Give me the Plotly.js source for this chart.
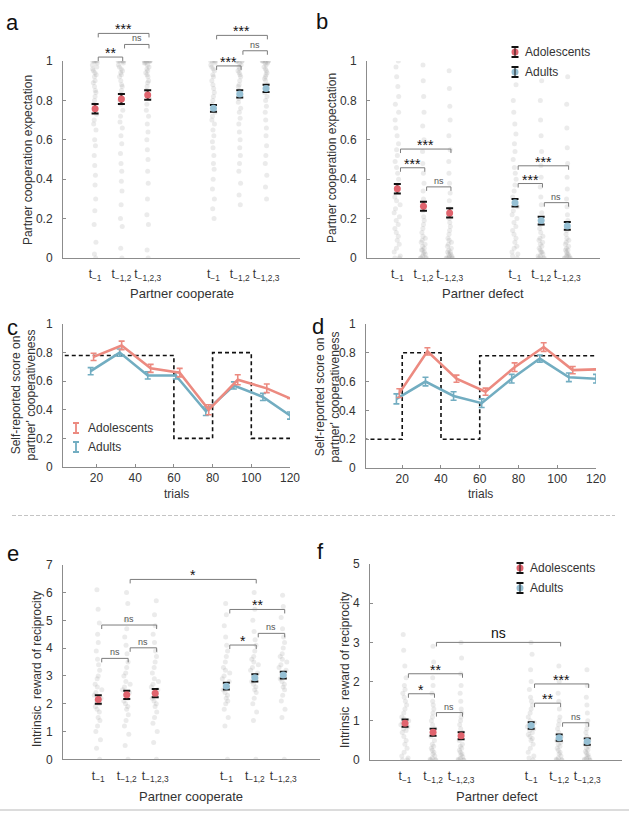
<!DOCTYPE html>
<html>
<head>
<meta charset="utf-8">
<script src="https://cdn.plot.ly/plotly-3.0.1.min.js"></script>
<style>
html,body{margin:0;padding:0;background:#fff;}
#chart{width:629px;height:813px;}
</style>
</head>
<body>
<div id="chart"></div>
<script>
// ---------------- data ----------------
const condTicks = ['t<sub>\u22121</sub>', 't<sub>\u22121,2</sub>', 't<sub>\u22121,2,3</sub>'];
const groupNames = ['Adolescents', 'Adults'];

// (a) partner cooperation expectation after the partner cooperated: mean and s.e.m.
const expCoopAdoMean = [0.758, 0.807, 0.827];
const expCoopAdoSem  = [0.024, 0.025, 0.024];
const expCoopAduMean = [0.760, 0.833, 0.861];
const expCoopAduSem  = [0.017, 0.018, 0.018];
// (b) after the partner defected
const expDefAdoMean = [0.351, 0.263, 0.229];
const expDefAdoSem  = [0.024, 0.023, 0.023];
const expDefAduMean = [0.281, 0.190, 0.163];
const expDefAduSem  = [0.019, 0.020, 0.020];
// (e) intrinsic reward of reciprocity, partner cooperated
const rewCoopAdoMean = [2.15, 2.32, 2.38];
const rewCoopAdoSem  = [0.15, 0.15, 0.15];
const rewCoopAduMean = [2.63, 2.93, 3.03];
const rewCoopAduSem  = [0.12, 0.13, 0.12];
// (f) partner defected
const rewDefAdoMean = [0.94, 0.71, 0.62];
const rewDefAdoSem  = [0.09, 0.09, 0.09];
const rewDefAduMean = [0.88, 0.57, 0.47];
const rewDefAduSem  = [0.08, 0.08, 0.08];

// individual participants (one list per condition)
const expCoopAdoPts = [
  [1,1,1,1,1,0.99,0.98,0.97,0.96,0.95,0.94,0.93,0.92,0.9,0.89,0.87,0.85,0.84,0.82,0.8,0.78,0.76,0.73,0.7,0.68,0.65,0.6,0.57,0.52,0.47,0.42,0.37,0.3,0.24,0.17,0.08,0.02,0],
  [1,1,1,1,1,1,0.99,0.98,0.97,0.96,0.95,0.94,0.93,0.92,0.9,0.88,0.87,0.85,0.83,0.8,0.78,0.75,0.72,0.69,0.66,0.62,0.58,0.53,0.48,0.44,0.39,0.34,0.27,0.2,0.16,0.05,0],
  [1,1,1,1,1,1,1,0.99,0.99,0.98,0.97,0.96,0.95,0.94,0.93,0.92,0.9,0.89,0.87,0.85,0.83,0.81,0.78,0.75,0.72,0.68,0.64,0.6,0.55,0.5,0.44,0.38,0.3,0.22,0.17,0.04,0]
];
const expCoopAduPts = [
  [1,1,1,1,0.99,0.98,0.97,0.96,0.95,0.93,0.92,0.9,0.88,0.86,0.84,0.82,0.8,0.78,0.76,0.74,0.72,0.7,0.68,0.65,0.62,0.59,0.56,0.52,0.48,0.45,0.4,0.35,0.3,0.25,0.2],
  [1,1,1,1,1,0.99,0.98,0.97,0.96,0.95,0.94,0.93,0.92,0.9,0.88,0.87,0.85,0.83,0.81,0.79,0.76,0.74,0.71,0.68,0.64,0.6,0.56,0.52,0.48,0.44,0.38,0.32,0.27],
  [1,1,1,1,1,1,0.99,0.99,0.98,0.97,0.96,0.95,0.94,0.93,0.92,0.91,0.9,0.88,0.86,0.84,0.82,0.8,0.77,0.74,0.7,0.66,0.62,0.57,0.52,0.48,0.42,0.36,0.3]
];
const expDefAdoPts = [
  [1,0.97,0.92,0.87,0.82,0.78,0.74,0.7,0.66,0.62,0.58,0.55,0.52,0.49,0.46,0.43,0.4,0.37,0.34,0.31,0.29,0.27,0.25,0.23,0.21,0.19,0.17,0.15,0.13,0.11,0.09,0.07,0.05,0.03,0.01,0,0],
  [0.98,0.9,0.82,0.74,0.67,0.6,0.54,0.48,0.43,0.38,0.34,0.3,0.27,0.24,0.21,0.19,0.17,0.15,0.13,0.11,0.1,0.09,0.08,0.07,0.06,0.05,0.04,0.04,0.03,0.02,0.02,0.01,0,0,0,0],
  [0.95,0.86,0.77,0.7,0.62,0.55,0.49,0.43,0.38,0.33,0.29,0.25,0.22,0.2,0.18,0.16,0.14,0.12,0.1,0.09,0.08,0.07,0.06,0.05,0.04,0.03,0.03,0.02,0.02,0.01,0.01,0,0,0,0,0]
];
const expDefAduPts = [
  [0.88,0.8,0.74,0.68,0.63,0.58,0.54,0.5,0.46,0.43,0.4,0.37,0.34,0.31,0.28,0.26,0.24,0.22,0.2,0.18,0.16,0.14,0.12,0.1,0.08,0.06,0.05,0.03,0.02,0.01,0],
  [0.9,0.8,0.7,0.62,0.54,0.47,0.41,0.36,0.31,0.27,0.23,0.2,0.17,0.15,0.13,0.11,0.1,0.09,0.08,0.07,0.06,0.05,0.04,0.03,0.03,0.02,0.01,0.01,0,0,0],
  [0.92,0.78,0.66,0.56,0.48,0.41,0.35,0.3,0.26,0.22,0.19,0.16,0.14,0.12,0.1,0.09,0.08,0.07,0.06,0.05,0.04,0.04,0.03,0.02,0.02,0.01,0.01,0,0,0,0]
];
const rewCoopAdoPts = [
  [0,0.4,0.7,1.0,1.2,1.4,1.5,1.7,1.8,1.9,2.0,2.1,2.2,2.3,2.4,2.5,2.6,2.7,2.9,3.0,3.2,3.4,3.6,3.9,4.2,4.5,4.9,5.4,6.1],
  [0,0.5,0.9,1.2,1.4,1.6,1.8,1.9,2.0,2.1,2.2,2.3,2.4,2.5,2.6,2.7,2.8,3.0,3.1,3.3,3.5,3.8,4.1,4.4,4.7,5.0,5.6,6.0],
  [0,0.6,1.0,1.3,1.5,1.7,1.9,2.0,2.1,2.2,2.3,2.4,2.5,2.6,2.7,2.8,2.9,3.1,3.3,3.5,3.7,3.9,4.2,4.5,4.8,5.2,5.7]
];
const rewCoopAduPts = [
  [0,1.2,1.5,1.8,2.0,2.1,2.2,2.3,2.4,2.5,2.6,2.7,2.8,2.9,3.0,3.1,3.2,3.3,3.5,3.7,3.9,4.1,4.4,4.8,5.2,5.6],
  [0,1.4,1.7,2.0,2.2,2.4,2.5,2.6,2.7,2.8,2.9,3.0,3.1,3.2,3.3,3.4,3.5,3.6,3.7,3.9,4.1,4.3,4.6,5.0,5.4,6.0],
  [0,1.5,1.8,2.1,2.3,2.5,2.6,2.7,2.8,2.9,3.0,3.1,3.2,3.3,3.4,3.5,3.6,3.7,3.8,4.0,4.2,4.4,4.7,5.1,5.5,5.9]
];
const rewDefAdoPts = [
  [0,0,0.05,0.1,0.2,0.3,0.4,0.5,0.6,0.7,0.75,0.8,0.85,0.9,0.95,1.0,1.05,1.1,1.2,1.3,1.4,1.5,1.6,1.7,1.8,1.9,2.1,2.4,2.8,3.2],
  [0,0,0,0.02,0.05,0.1,0.15,0.2,0.25,0.3,0.35,0.4,0.5,0.6,0.7,0.8,0.9,1.0,1.1,1.2,1.3,1.4,1.5,1.7,1.9,2.1,2.5,2.9],
  [0,0,0,0.02,0.04,0.08,0.12,0.16,0.2,0.25,0.3,0.35,0.4,0.5,0.6,0.7,0.8,0.9,1.0,1.1,1.2,1.3,1.5,1.7,1.9,2.2,2.6,3.0]
];
const rewDefAduPts = [
  [0,0.05,0.1,0.2,0.3,0.4,0.5,0.55,0.6,0.65,0.7,0.75,0.8,0.85,0.9,0.95,1.0,1.1,1.2,1.3,1.4,1.5,1.6,1.8,2.0,2.3,2.7,3.0],
  [0,0,0,0.02,0.05,0.1,0.15,0.2,0.25,0.3,0.35,0.4,0.45,0.5,0.55,0.6,0.7,0.8,0.9,1.0,1.1,1.3,1.5,1.7,2.0,2.4],
  [0,0,0,0.02,0.04,0.07,0.1,0.14,0.18,0.22,0.26,0.3,0.35,0.4,0.45,0.5,0.6,0.7,0.8,0.9,1.0,1.2,1.4,1.6,1.9,2.3]
];

// (c, d) self-reported cooperativeness across trials
const trialsAdo = [18.5, 33, 48, 63, 78, 93, 108, 120];
const trialsAdu = [17, 32, 46.5, 61, 76.5, 91, 106, 120];
const scoreCAdo = [0.77, 0.85, 0.69, 0.66, 0.40, 0.61, 0.55, 0.48];
const semCAdo   = [0.025, 0.03, 0.028, 0.03, 0.035, 0.035, 0.03, 0];
const scoreCAdu = [0.67, 0.80, 0.64, 0.64, 0.39, 0.57, 0.49, 0.36];
const semCAdu   = [0.025, 0.025, 0.025, 0.025, 0.03, 0.025, 0.025, 0.025];
const scoreDAdo = [0.52, 0.81, 0.62, 0.53, 0.70, 0.84, 0.68, 0.685];
const semDAdo   = [0.03, 0.025, 0.025, 0.025, 0.03, 0.03, 0.025, 0];
const scoreDAdu = [0.48, 0.60, 0.50, 0.45, 0.62, 0.76, 0.63, 0.62];
const semDAdu   = [0.035, 0.03, 0.03, 0.03, 0.03, 0.025, 0.03, 0.03];
// true cooperation probability of the partner in each block
const designEdgesC = [0, 60, 80, 100, 120];
const designLevelsC = [0.78, 0.2, 0.8, 0.2];
const designEdgesD = [0, 20, 40, 60, 120];
const designLevelsD = [0.2, 0.8, 0.2, 0.78];

// significance comparisons: [from condition, to condition, height, label]
const sigA = [[0,1,1.02,'**'],[1,2,1.084,'ns'],[0,2,1.14,'***'],[3,4,0.975,'***'],[4,5,1.052,'ns'],[3,5,1.13,'***']];
const sigB = [[0,2,0.553,'***'],[0,1,0.458,'***'],[1,2,0.361,'ns'],[3,5,0.468,'***'],[3,4,0.378,'***'],[4,5,0.281,'ns']];
const sigE = [[0,1,3.63,'ns'],[1,2,4.01,'ns'],[0,2,4.83,'ns'],[3,4,4.11,'*'],[4,5,4.53,'ns'],[3,5,5.39,'**']];
const sigF = [[0,1,1.69,'*'],[0,2,2.2,'**'],[1,2,1.21,'ns'],[3,4,1.45,'**'],[3,5,1.94,'***'],[4,5,0.95,'ns']];
const groupSigE = [1, 4, 6.47, '*'];
const groupSigF = [1, 4, 3.0, 'ns'];

// ---------------- layout helpers ----------------
const W = 629, H = 813;
const FONT = 'Liberation Sans, Arial, Helvetica, sans-serif';
const AXC = '#8c8c8c';
const TXT = '#333333';
const ADO = '#e0646e', ADU = '#96c0d4';
const ADO_LINE = '#ec8a80', ADU_LINE = '#72adc1';
const COLS = [1, 2, 3, 5.5, 6.5, 7.5];

const P = {
  a: {n:1, l:63,  r:300, t:61,    b:258,   xr:[-0.22, 8.79], yr:[0,1]},
  b: {n:2, l:367, r:600, t:61,    b:258,   xr:[-0.16, 8.75], yr:[0,1]},
  c: {n:3, l:63,  r:290, t:324,   b:467,   xr:[2.7, 120],    yr:[0,1]},
  d: {n:4, l:366, r:596, t:324,   b:468,   xr:[1.3, 120],    yr:[0,1]},
  e: {n:5, l:63,  r:320, t:564.7, b:759.3, xr:[-0.24, 8.79], yr:[0,7]},
  f: {n:6, l:370, r:622, t:564,   b:760,   xr:[-0.25, 8.74], yr:[0,5]}
};
const toPx = (p, x) => p.l + (x - p.xr[0]) / (p.xr[1] - p.xr[0]) * (p.r - p.l);
const toPy = (p, y) => p.b - (y - p.yr[0]) / (p.yr[1] - p.yr[0]) * (p.b - p.t);
const fx = px => px / W;
const fy = py => 1 - py / H;
const sfx = n => (n > 1 ? n : '');

const layout = {
  width: W, height: H,
  margin: {l:0, r:0, t:0, b:0},
  paper_bgcolor: '#ffffff', plot_bgcolor: 'rgba(0,0,0,0)',
  showlegend: false,
  font: {family: FONT, size: 12, color: TXT},
  shapes: [], annotations: []
};
const traces = [];

function setAxes(p, xo, yo) {
  layout['xaxis' + sfx(p.n)] = Object.assign({
    domain: [fx(p.l), fx(p.r)], range: p.xr, anchor: 'y' + sfx(p.n),
    showline: true, linecolor: AXC, linewidth: 1, zeroline: false, showgrid: false,
    ticks: '', tickfont: {family: FONT, size: 12, color: TXT}, fixedrange: true
  }, xo);
  layout['yaxis' + sfx(p.n)] = Object.assign({
    domain: [fy(p.b), fy(p.t)], range: p.yr, anchor: 'x' + sfx(p.n),
    showline: true, linecolor: AXC, linewidth: 1, zeroline: false, showgrid: false,
    ticks: 'inside', ticklen: 3, tickcolor: AXC, ticklabelstandoff: 7,
    tickfont: {family: FONT, size: 12, color: TXT}, fixedrange: true
  }, yo);
}

const unitTicks = {tickvals: [0,0.2,0.4,0.6,0.8,1], ticktext: ['0','0.2','0.4','0.6','0.8','1']};
const condAxis = {tickvals: COLS, ticktext: condTicks.concat(condTicks), ticklabelstandoff: 5};
const trialAxis = {tickvals: [20,40,60,80,100,120], ticks: 'inside', ticklen: 3, tickcolor: AXC, ticklabelstandoff: 0};

setAxes(P.a, condAxis, unitTicks);
setAxes(P.b, condAxis, unitTicks);
setAxes(P.c, trialAxis, unitTicks);
setAxes(P.d, trialAxis, unitTicks);
setAxes(P.e, condAxis, {tickvals: [0,1,2,3,4,5,6,7]});
setAxes(P.f, condAxis, {tickvals: [0,1,2,3,4,5]});

// jittered participant dots + group means with s.e.m.
function dotPanel(p, adoPts, aduPts, adoMean, adoSem, aduMean, aduSem) {
  const ax = {xaxis: 'x' + sfx(p.n), yaxis: 'y' + sfx(p.n)};
  adoPts.concat(aduPts).forEach((vals, k) => {
    traces.push(Object.assign({
      type: 'box', y: vals, x0: COLS[k], width: 0.34,
      boxpoints: 'all', jitter: 0.9, pointpos: 0,
      marker: {color: 'rgba(135,135,135,0.17)', size: 5},
      line: {width: 0, color: 'rgba(0,0,0,0)'}, fillcolor: 'rgba(0,0,0,0)',
      hoverinfo: 'skip'
    }, ax));
  });
  [[adoMean, adoSem, ADO, COLS.slice(0,3)], [aduMean, aduSem, ADU, COLS.slice(3)]].forEach(([m, s, c, xs]) => {
    traces.push(Object.assign({
      type: 'scatter', mode: 'markers', x: xs, y: m,
      marker: {color: c, size: 7, line: {width: 0}},
      error_y: {type: 'data', array: s, visible: true, color: '#111', thickness: 2, width: 3.5},
      cliponaxis: false, hoverinfo: 'skip'
    }, ax));
  });
}
dotPanel(P.a, expCoopAdoPts, expCoopAduPts, expCoopAdoMean, expCoopAdoSem, expCoopAduMean, expCoopAduSem);
dotPanel(P.b, expDefAdoPts, expDefAduPts, expDefAdoMean, expDefAdoSem, expDefAduMean, expDefAduSem);
dotPanel(P.e, rewCoopAdoPts, rewCoopAduPts, rewCoopAdoMean, rewCoopAdoSem, rewCoopAduMean, rewCoopAduSem);
dotPanel(P.f, rewDefAdoPts, rewDefAduPts, rewDefAdoMean, rewDefAdoSem, rewDefAduMean, rewDefAduSem);

// learning curves with the partner's block schedule
function curvePanel(p, edges, levels, yAdo, eAdo, yAdu, eAdu) {
  const ax = {xaxis: 'x' + sfx(p.n), yaxis: 'y' + sfx(p.n)};
  traces.push(Object.assign({
    type: 'scatter', mode: 'lines', x: edges, y: levels.concat([levels[levels.length - 1]]),
    line: {shape: 'hv', dash: '4px,3px', width: 1.6, color: '#111'}, hoverinfo: 'skip'
  }, ax));
  traces.push(Object.assign({
    type: 'scatter', mode: 'lines', x: trialsAdu, y: yAdu,
    line: {color: ADU_LINE, width: 2.6},
    error_y: {type: 'data', array: eAdu, color: ADU_LINE, thickness: 1.6, width: 3},
    cliponaxis: false, hoverinfo: 'skip'
  }, ax));
  traces.push(Object.assign({
    type: 'scatter', mode: 'lines', x: trialsAdo, y: yAdo,
    line: {color: ADO_LINE, width: 2.6},
    error_y: {type: 'data', array: eAdo, color: ADO_LINE, thickness: 1.6, width: 3},
    cliponaxis: false, hoverinfo: 'skip'
  }, ax));
}
curvePanel(P.c, designEdgesC, designLevelsC, scoreCAdo, semCAdo, scoreCAdu, semCAdu);
curvePanel(P.d, designEdgesD, designLevelsD, scoreDAdo, semDAdo, scoreDAdu, semDAdu);

// significance brackets
function note(xpx, ypx, text, size, color, opts) {
  layout.annotations.push(Object.assign({
    xref: 'paper', yref: 'paper', x: fx(xpx), y: fy(ypx), text: text, showarrow: false,
    font: {family: FONT, size: size, color: color}, xanchor: 'center', yanchor: 'middle'
  }, opts || {}));
}
function bracket(p, c) {
  const [i, j, h, lab] = c;
  const big = c.length > 4;
  const x0 = toPx(p, COLS[i] + 0.12), x1 = toPx(p, COLS[j] + 0.05), y = toPy(p, h);
  layout.shapes.push({
    type: 'path', xref: 'paper', yref: 'paper',
    path: `M${fx(x0)},${fy(y + 4)} L${fx(x0)},${fy(y)} L${fx(x1)},${fy(y)} L${fx(x1)},${fy(y + 4)}`,
    line: {color: '#7c7c7c', width: 1}
  });
  const isNs = lab === 'ns';
  const size = isNs ? (big ? 14 : 9) : 14;
  note((x0 + x1) / 2, y, lab, size, isNs && !big ? '#555' : '#111',
       {yanchor: 'bottom', yshift: isNs ? -1 : -6});
}
sigA.forEach(c => bracket(P.a, c));
sigB.forEach(c => bracket(P.b, c));
sigE.forEach(c => bracket(P.e, c));
sigF.forEach(c => bracket(P.f, c));
bracket(P.e, groupSigE.concat(['group']));
bracket(P.f, groupSigF.concat(['group']));

// legends
function markerLegend(xpx, ypx) {
  [[ADO, groupNames[0]], [ADU, groupNames[1]]].forEach(([c, name], k) => {
    const y = ypx + k * 20;
    layout.shapes.push({type: 'circle', xref: 'paper', yref: 'paper',
      x0: fx(xpx - 3.5), x1: fx(xpx + 3.5), y0: fy(y + 3.5), y1: fy(y - 3.5),
      fillcolor: c, line: {width: 0}});
    [y - 5, y + 5].forEach(ya => layout.shapes.push({type: 'line', xref: 'paper', yref: 'paper',
      x0: fx(xpx - 3.5), x1: fx(xpx + 3.5), y0: fy(ya), y1: fy(ya), line: {color: '#111', width: 2}}));
    layout.shapes.push({type: 'line', xref: 'paper', yref: 'paper',
      x0: fx(xpx), x1: fx(xpx), y0: fy(y - 5), y1: fy(y + 5), line: {color: '#111', width: 1}});
    note(xpx + 8, y, name, 12, TXT, {xanchor: 'left'});
  });
}
function lineLegend(xpx, ypx) {
  [[ADO_LINE, groupNames[0]], [ADU_LINE, groupNames[1]]].forEach(([c, name], k) => {
    const y = ypx + k * 19;
    layout.shapes.push({type: 'path', xref: 'paper', yref: 'paper',
      path: `M${fx(xpx - 3)},${fy(y - 5)} L${fx(xpx + 3)},${fy(y - 5)} M${fx(xpx)},${fy(y - 5)} L${fx(xpx)},${fy(y + 5)} M${fx(xpx - 3)},${fy(y + 5)} L${fx(xpx + 3)},${fy(y + 5)}`,
      line: {color: c, width: 1.8}});
    note(xpx + 10, y, name, 12, TXT, {xanchor: 'left'});
  });
}
markerLegend(515, 52);
markerLegend(520, 568);
lineLegend(76, 428);

// axis titles
const titleFont = 12;
note(28, 160, 'Partner cooperation expectation', titleFont, TXT, {textangle: -90});
note(332, 158, 'Partner cooperation expectation', titleFont, TXT, {textangle: -90});
note(23.5, 395, "Self-reported score on<br>partner' cooperativeness", titleFont, TXT, {textangle: -90});
note(327.5, 397, "Self-reported score on<br>partner' cooperativeness", titleFont, TXT, {textangle: -90});
note(37, 669, 'Intrinsic  reward of reciprocity', titleFont, TXT, {textangle: -90});
note(345, 670, 'Intrinsic  reward of reciprocity', titleFont, TXT, {textangle: -90});
note(182, 293, 'Partner cooperate', 13, TXT);
note(483, 293, 'Partner defect', 13, TXT);
note(176, 494, 'trials', 12, TXT);
note(480, 494, 'trials', 12, TXT);
note(191, 796, 'Partner cooperate', 13, TXT);
note(497, 796, 'Partner defect', 13, TXT);

// panel letters
[['a', 12.5, 23], ['b', 322, 22], ['c', 12, 327], ['d', 318, 326], ['e', 12.5, 553], ['f', 320, 551]].forEach(([t, x, y]) =>
  note(x, y, t, 22, '#111'));

// section divider and bottom rule
layout.shapes.push({type: 'line', xref: 'paper', yref: 'paper', x0: fx(12), x1: fx(615), y0: fy(515.5), y1: fy(515.5),
  line: {color: '#c4c4c4', width: 1, dash: '4px,2px'}});
layout.shapes.push({type: 'line', xref: 'paper', yref: 'paper', x0: 0, x1: 1, y0: fy(810), y1: fy(810),
  line: {color: '#dcdcdc', width: 2}});

Plotly.newPlot('chart', traces, layout, {staticPlot: true, displayModeBar: false});
</script>
</body>
</html>
